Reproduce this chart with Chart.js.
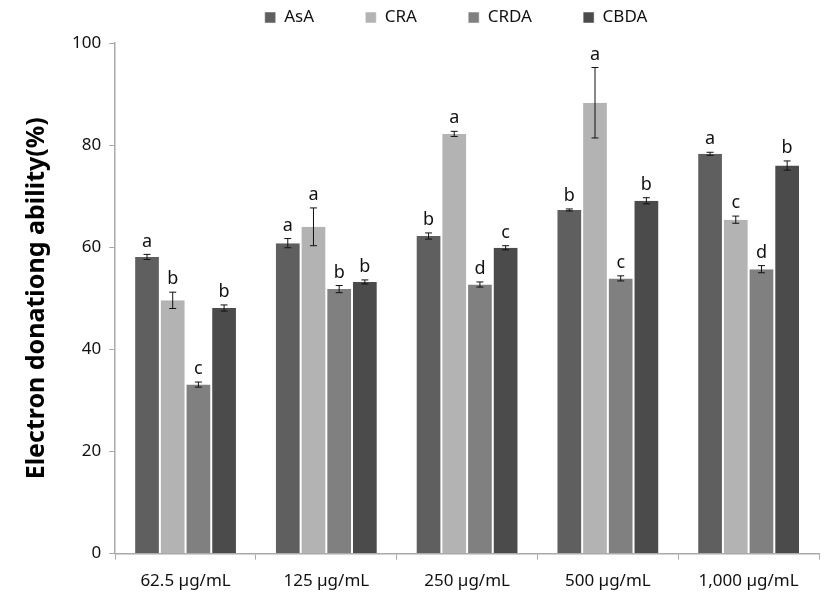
<!DOCTYPE html>
<html>
<head>
<meta charset="utf-8">
<script src="https://cdn.jsdelivr.net/npm/chart.js@4.4.1/dist/chart.umd.min.js"></script>
<style>
  html, body { margin: 0; padding: 0; background: #fff; }
  #wrap { width: 827px; height: 606px; }
</style>
</head>
<body>
<div id="wrap"><canvas id="myChart" width="827" height="606"></canvas></div>
<script>
// concentrations on the x axis
const labels = ['62.5 \u00b5g/mL', '125 \u00b5g/mL', '250 \u00b5g/mL', '500 \u00b5g/mL', '1,000 \u00b5g/mL'];

// mean values (%)
const asaValues  = [58.1, 60.8, 62.2, 67.3, 78.3];
const craValues  = [49.6, 64.0, 82.2, 88.3, 65.4];
const crdaValues = [33.1, 51.8, 52.7, 53.9, 55.7];
const cbdaValues = [48.1, 53.2, 59.9, 69.1, 76.0];

// standard deviations
const asaErr  = [0.5, 0.9, 0.6, 0.2, 0.3];
const craErr  = [1.6, 3.7, 0.5, 6.9, 0.7];
const crdaErr = [0.5, 0.7, 0.5, 0.5, 0.7];
const cbdaErr = [0.6, 0.4, 0.4, 0.6, 0.9];

// significance letters
const asaLetters  = ['a', 'a', 'b', 'b', 'a'];
const craLetters  = ['b', 'a', 'a', 'a', 'c'];
const crdaLetters = ['c', 'b', 'd', 'c', 'd'];
const cbdaLetters = ['b', 'b', 'c', 'b', 'b'];

const FONT = "'Noto Sans', 'DejaVu Sans', sans-serif";

// draws error bars and the letters above each bar
const errorBarPlugin = {
    id: 'errorBars',
    afterDatasetsDraw(chart) {
        let ctx = chart.ctx;
        let yScale = chart.scales.y;
        ctx.save();
        chart.data.datasets.forEach((ds, i) => {
            let meta = chart.getDatasetMeta(i);
            meta.data.forEach((bar, j) => {
                let v = ds.data[j];
                let e = ds.errors[j];
                let x = bar.x;
                let yTop = yScale.getPixelForValue(v + e);
                let yBot = yScale.getPixelForValue(v - e);
                ctx.strokeStyle = '#111';
                ctx.lineWidth = 1;
                ctx.beginPath();
                ctx.moveTo(x, yTop); ctx.lineTo(x, yBot);
                ctx.moveTo(x - 3.5, yTop); ctx.lineTo(x + 3.5, yTop);
                ctx.moveTo(x - 3.5, yBot); ctx.lineTo(x + 3.5, yBot);
                ctx.stroke();

                ctx.fillStyle = '#111';
                ctx.font = '18px ' + FONT;
                ctx.textAlign = 'center';
                ctx.textBaseline = 'bottom';
                ctx.fillText(ds.letters[j], x, yTop - 4);
            });
        });
        ctx.restore();
    }
};

// leaves a bit more room under the legend
const legendGapPlugin = {
    id: 'legendGap',
    afterInit(chart) {
        let legend = chart.legend;
        let fit = legend.fit;
        legend.fit = function () {
            fit.call(this);
            this.height += 7;
        };
    }
};

// legend entries get extra trailing room so they spread out like the original
function legendLabels(chart) {
    let items = Chart.defaults.plugins.legend.labels.generateLabels(chart);
    items.forEach((item, i) => {
        if (i < items.length - 1) item.text = item.text + '          ';
        else item.text = item.text + '     ';
    });
    return items;
}

let ctx = document.getElementById('myChart').getContext('2d');
let chart = new Chart(ctx, {
    type: 'bar',
    data: {
        labels: labels,
        datasets: [
            { label: 'AsA',  data: asaValues,  errors: asaErr,  letters: asaLetters,  backgroundColor: '#5f5f5f' },
            { label: 'CRA',  data: craValues,  errors: craErr,  letters: craLetters,  backgroundColor: '#b3b3b3' },
            { label: 'CRDA', data: crdaValues, errors: crdaErr, letters: crdaLetters, backgroundColor: '#808080' },
            { label: 'CBDA', data: cbdaValues, errors: cbdaErr, letters: cbdaLetters, backgroundColor: '#4b4b4b' }
        ]
    },
    options: {
        responsive: false,
        animation: false,
        layout: { padding: { left: 18, right: 8, top: 2, bottom: 4 } },
        datasets: {
            bar: {
                barPercentage: 1.0,
                categoryPercentage: 0.73,
                borderColor: '#ffffff',
                borderWidth: { left: 1, right: 1, top: 0, bottom: 0 }
            }
        },
        plugins: {
            legend: {
                position: 'top',
                fullSize: false,
                labels: {
                    boxWidth: 11,
                    boxHeight: 11,
                    padding: 7,
                    color: '#111',
                    font: { family: FONT, size: 17 },
                    generateLabels: legendLabels
                }
            },
            tooltip: { enabled: false }
        },
        scales: {
            x: {
                grid: {
                    display: true,
                    drawOnChartArea: false,
                    offset: true,
                    tickLength: 6,
                    color: '#aaa'
                },
                border: { color: '#aaa', width: 1.5 },
                ticks: {
                    color: '#111',
                    padding: 11,
                    font: { family: FONT, size: 17 }
                }
            },
            y: {
                min: 0,
                max: 100,
                grid: {
                    display: true,
                    drawOnChartArea: false,
                    tickLength: 6,
                    color: '#aaa'
                },
                border: { color: '#aaa', width: 1.5 },
                ticks: {
                    stepSize: 20,
                    color: '#111',
                    padding: 8,
                    font: { family: FONT, size: 17 }
                },
                title: {
                    display: true,
                    text: 'Electron donationg ability(%)',
                    color: '#000',
                    padding: { bottom: 12 },
                    font: { family: FONT, size: 25, weight: 'bold' }
                }
            }
        }
    },
    plugins: [errorBarPlugin, legendGapPlugin]
});
</script>
</body>
</html>
